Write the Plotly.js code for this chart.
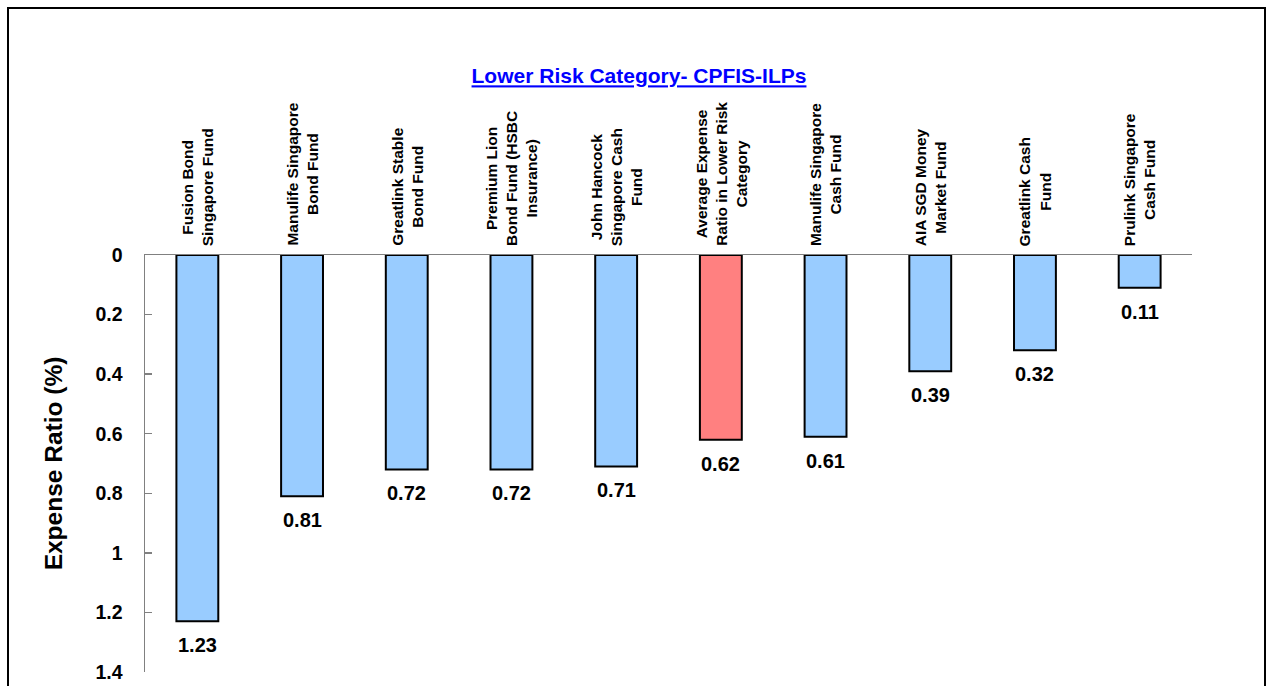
<!DOCTYPE html>
<html>
<head>
<meta charset="utf-8">
<script src="https://cdn.plot.ly/plotly-3.0.1.min.js"></script>
<style>
html,body{margin:0;padding:0;background:#fff;overflow:hidden;}
#chart{width:1268px;height:686px;}
</style>
</head>
<body>
<div id="chart"></div>
<script>
const categories = [
  "Fusion Bond<br>Singapore Fund",
  "Manulife Singapore<br>Bond Fund",
  "Greatlink Stable<br>Bond Fund",
  "Premium Lion<br>Bond Fund (HSBC<br>Insurance)",
  "John Hancock<br>Singapore Cash<br>Fund",
  "Average Expense<br>Ratio in Lower Risk<br>Category",
  "Manulife Singapore<br>Cash Fund",
  "AIA SGD Money<br>Market Fund",
  "Greatlink Cash<br>Fund",
  "Prulink Singapore<br>Cash Fund"
];
const expenseRatio = [1.23, 0.81, 0.72, 0.72, 0.71, 0.62, 0.61, 0.39, 0.32, 0.11];
const isAverage = [false, false, false, false, false, true, false, false, false, false];
const yTickVals = [0, 0.2, 0.4, 0.6, 0.8, 1, 1.2, 1.4];
const yTickText = ["0", "0.2", "0.4", "0.6", "0.8", "1", "1.2", "1.4"];

const FONT = '"Liberation Sans", Arial, sans-serif';
const idx = categories.map((c, i) => i);

const trace = {
  type: 'bar',
  x: idx,
  y: expenseRatio,
  width: 0.4,
  marker: {
    color: isAverage.map(a => a ? '#FF8080' : '#99CCFF'),
    line: {color: '#000000', width: 2}
  },
  textposition: 'none',
  hoverinfo: 'skip'
};

const catAnnotations = categories.map((c, i) => ({
  x: i, xref: 'x',
  y: (672 - 248) / 417, yref: 'paper',
  text: '<b>' + c + '</b>',
  textangle: -90,
  showarrow: false,
  xanchor: 'center', yanchor: 'bottom',
  align: 'center',
  font: {family: FONT, size: 15.5, color: '#000'}
}));

const valueAnnotations = expenseRatio.map((v, i) => ({
  x: i, xref: 'x',
  y: v, yref: 'y',
  text: '<b>' + v.toFixed(2) + '</b>',
  showarrow: false,
  xanchor: 'center', yanchor: 'middle',
  yshift: -24,
  font: {family: FONT, size: 20, color: '#000'}
}));

const layout = {
  width: 1268, height: 686,
  margin: {l: 145, r: 76, t: 255, b: 14},
  paper_bgcolor: '#fff', plot_bgcolor: '#fff',
  showlegend: false,
  title: {
    text: '<b><u>Lower Risk Category- CPFIS-ILPs</u></b>',
    font: {family: FONT, size: 21, color: '#0000FF'},
    x: 639/1268, xref: 'container', xanchor: 'center',
    y: 1 - 76/686, yref: 'container', yanchor: 'middle'
  },
  xaxis: {
    range: [-0.5, 9.5],
    side: 'top',
    showticklabels: false,
    ticks: '',
    showline: true, linecolor: '#808080', linewidth: 1.5,
    showgrid: false, zeroline: false, fixedrange: true
  },
  yaxis: {
    range: [1.4, 0],
    tickvals: yTickVals,
    ticktext: yTickText,
    ticks: 'inside', ticklen: 7, tickcolor: '#808080', tickwidth: 1.5,
    showline: true, linecolor: '#808080', linewidth: 1.5,
    showgrid: false, zeroline: false,
    tickfont: {family: FONT, size: 19.5, color: '#000', weight: 'bold'},
    ticklabelstandoff: 17,
    title: {text: '<b>Expense Ratio (%)</b>', font: {family: FONT, size: 24.5, color: '#000'}, standoff: 26},
    fixedrange: true
  },
  annotations: catAnnotations.concat(valueAnnotations),
  shapes: [{
    type: 'rect', xref: 'paper', yref: 'paper',
    x0: (8 - 145) / 1047, x1: (1265 - 145) / 1047,
    y0: -0.2, y1: (672 - 8) / 417,
    line: {color: '#000', width: 2}, fillcolor: 'rgba(0,0,0,0)', layer: 'below'
  }]
};

Plotly.newPlot('chart', [trace], layout, {displayModeBar: false, staticPlot: true});
</script>
</body>
</html>
